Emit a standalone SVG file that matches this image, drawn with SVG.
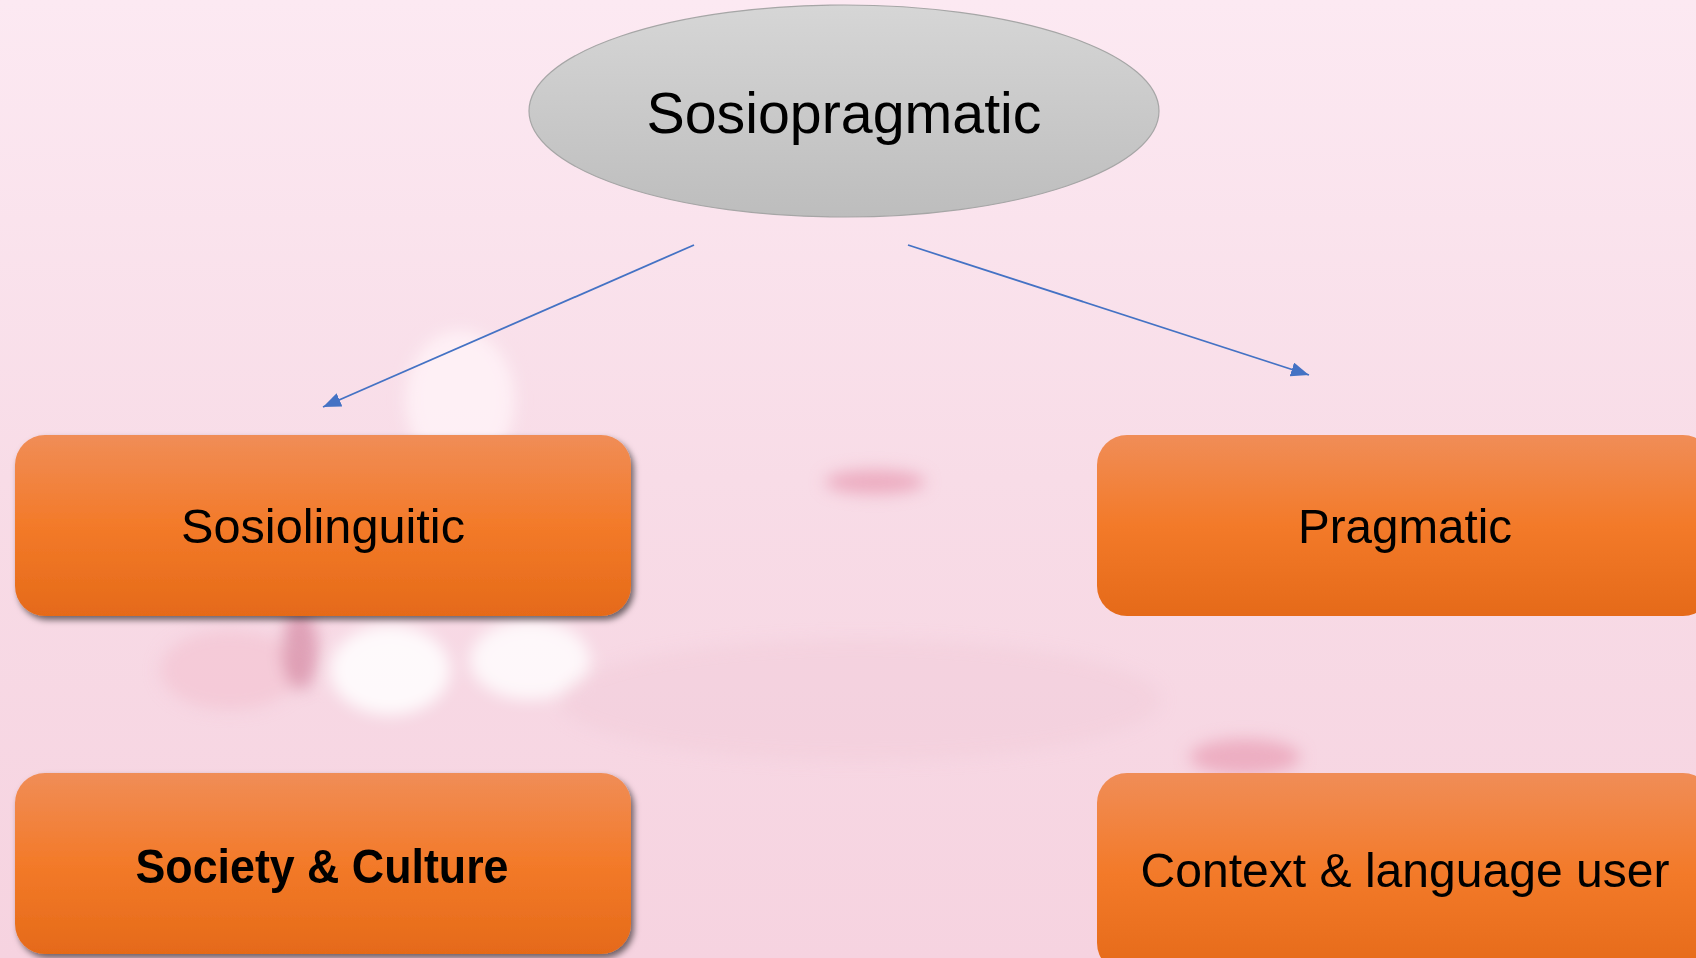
<svg xmlns="http://www.w3.org/2000/svg" width="1696" height="958" viewBox="0 0 1696 958">
<defs>
<linearGradient id="bg" x1="0" y1="0" x2="0" y2="1">
<stop offset="0" stop-color="#FCE9F2"/>
<stop offset="0.5" stop-color="#F8DCE7"/>
<stop offset="1" stop-color="#F6D3E0"/>
</linearGradient>
<linearGradient id="ell" x1="0" y1="0" x2="0" y2="1">
<stop offset="0" stop-color="#D6D6D6"/>
<stop offset="1" stop-color="#BDBDBD"/>
</linearGradient>
<linearGradient id="box" x1="0" y1="0" x2="0" y2="1">
<stop offset="0" stop-color="#F08D57"/>
<stop offset="0.5" stop-color="#F37A29"/>
<stop offset="1" stop-color="#E56A19"/>
</linearGradient>
<filter id="shadow" x="-5%" y="-10%" width="115%" height="130%">
<feDropShadow dx="3" dy="4" stdDeviation="3" flood-color="#000" flood-opacity="0.55"/>
</filter>
<filter id="blur" x="-50%" y="-50%" width="200%" height="200%">
<feGaussianBlur stdDeviation="8"/>
</filter>
<marker id="arrow" viewBox="0 0 10 10" refX="10" refY="5" markerWidth="10" markerHeight="8" orient="auto" markerUnits="strokeWidth" preserveAspectRatio="none">
<path d="M0,0 L10,5 L0,10 z" fill="#4472C4"/>
</marker>
<style>
.lbl{font-family:"Liberation Sans",Arial,sans-serif;fill:#000;text-anchor:middle}
.boxr{fill:url(#box)}
.conn{stroke:#4472C4;stroke-width:1.8;fill:none}
</style>
</defs>
<g id="background">
<rect x="0" y="0" width="1696" height="958" fill="url(#bg)"/>
<g filter="url(#blur)">
<ellipse cx="460" cy="400" rx="55" ry="70" fill="#FFF4F8" opacity="0.8"/>
<ellipse cx="390" cy="670" rx="60" ry="45" fill="#FFFFFF" opacity="0.85"/>
<ellipse cx="530" cy="660" rx="60" ry="40" fill="#FFFFFF" opacity="0.8"/>
<ellipse cx="230" cy="670" rx="70" ry="40" fill="#F3C4D3" opacity="0.7"/>
<ellipse cx="300" cy="650" rx="18" ry="40" fill="#C86A8A" opacity="0.5"/>
<ellipse cx="875" cy="482" rx="50" ry="12" fill="#EBA7BC" opacity="0.9"/>
<ellipse cx="1245" cy="757" rx="55" ry="18" fill="#EBA7BC" opacity="0.85"/>
<ellipse cx="860" cy="700" rx="300" ry="60" fill="#F2CCDA" opacity="0.5"/>
</g>
</g>
<g id="connectors">
<line class="conn" x1="694" y1="245" x2="323" y2="407" marker-end="url(#arrow)"/>
<line class="conn" x1="908" y1="245" x2="1309" y2="375" marker-end="url(#arrow)"/>
</g>
<g id="node-sosiopragmatic">
<ellipse cx="844" cy="111" rx="315" ry="106" fill="url(#ell)" stroke="#A6A6A6" stroke-width="1.2"/>
<text class="lbl" x="844" y="133" font-size="58" textLength="395" lengthAdjust="spacingAndGlyphs">Sosiopragmatic</text>
</g>
<g id="node-sosiolinguitic">
<rect class="boxr" x="15" y="435" width="616" height="181" rx="30" filter="url(#shadow)"/>
<text class="lbl" x="323" y="543" font-size="48" textLength="284" lengthAdjust="spacingAndGlyphs">Sosiolinguitic</text>
</g>
<g id="node-pragmatic">
<rect class="boxr" x="1097" y="435" width="616" height="181" rx="30"/>
<text class="lbl" x="1405" y="543" font-size="48" textLength="214" lengthAdjust="spacingAndGlyphs">Pragmatic</text>
</g>
<g id="node-society">
<rect class="boxr" x="15" y="773" width="616" height="181" rx="30" filter="url(#shadow)"/>
<text class="lbl" x="322" y="883" font-size="48" font-weight="bold" textLength="373" lengthAdjust="spacingAndGlyphs">Society &amp; Culture</text>
</g>
<g id="node-context">
<rect class="boxr" x="1097" y="773" width="616" height="200" rx="30"/>
<text class="lbl" x="1405" y="887" font-size="48" textLength="529" lengthAdjust="spacingAndGlyphs">Context &amp; language user</text>
</g>
</svg>
